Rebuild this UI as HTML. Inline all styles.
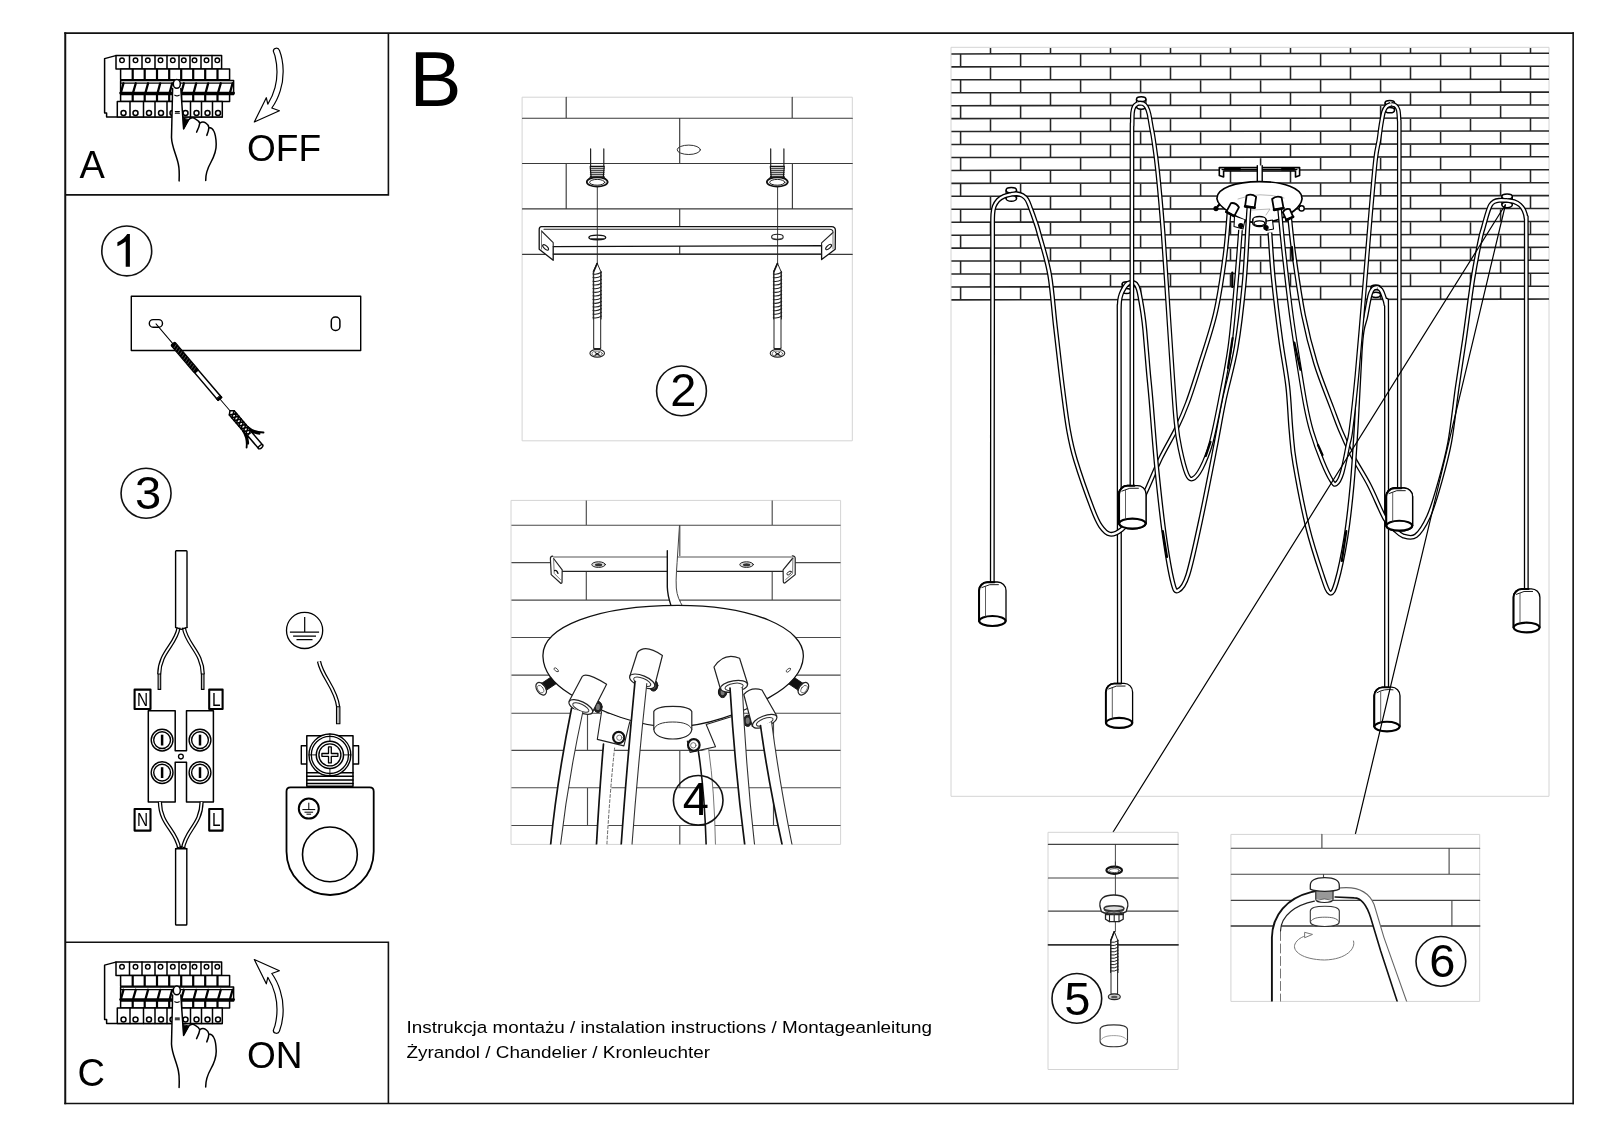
<!DOCTYPE html>
<html><head><meta charset="utf-8"><title>Instrukcja montazu</title>
<style>
html,body{margin:0;padding:0;background:#fff;}
body{width:1600px;height:1131px;overflow:hidden;font-family:"Liberation Sans",sans-serif;}
svg{display:block;position:absolute;left:0;top:0;will-change:transform;}
svg text{font-family:"Liberation Sans",sans-serif;fill:#000;}
.k{fill:none;stroke:#000;stroke-linecap:round;stroke-linejoin:round;}
.w{fill:#fff;stroke:#000;stroke-linecap:round;stroke-linejoin:round;}
</style></head><body>
<svg width="1600" height="1131" viewBox="0 0 1600 1131">
<rect x="0" y="0" width="1600" height="1131" fill="#fff"/>
<!-- 00_frame.svg -->
<g id="frame">
<path d="M65.25 32.2V1104.3" stroke="#111" stroke-width="2" fill="none"/><path d="M64.3 33.1H1573.9" stroke="#111" stroke-width="1.75" fill="none"/><path d="M1573.15 32.2V1104.3" stroke="#111" stroke-width="1.6" fill="none"/><path d="M64.3 1103.5H1573.9" stroke="#111" stroke-width="1.5" fill="none"/>
<path d="M65.25 194.9H388.4V33.1" fill="none" stroke="#111" stroke-width="1.6"/>
<path d="M65.25 942.3H388.4V1103.5" fill="none" stroke="#111" stroke-width="1.6"/>
<text x="79.5" y="178" font-size="38">A</text>
<text x="247" y="161.3" font-size="37">OFF</text>
<text x="409.5" y="106" font-size="78">B</text>
<text x="77.5" y="1086.3" font-size="38">C</text>
<text x="247" y="1068" font-size="37">ON</text>
<text x="406.5" y="1032.6" font-size="17.4" textLength="525.5" lengthAdjust="spacingAndGlyphs">Instrukcja montażu / instalation instructions / Montageanleitung</text>
<text x="406.5" y="1057.9" font-size="17.4" textLength="303.5" lengthAdjust="spacingAndGlyphs">Żyrandol / Chandelier / Kronleuchter</text>
</g>
<!-- 10_breaker.svg -->
<defs><g id="brk" stroke="#000" stroke-linejoin="round" stroke-linecap="round">
<path d="M115.8 55.6L104.6 58.6V113H106.6V117.1H222.3" fill="#fff" stroke-width="1.5"/>
<rect x="116" y="55.6" width="105.6" height="13.4" fill="#fff" stroke-width="1.5"/>
<path d="M129.5 55.6V69M142.0 55.6V69M155.0 55.6V69M167.0 55.6V69M179.0 55.6V69M190.0 55.6V69M201.0 55.6V69M212.0 55.6V69" fill="none" stroke-width="1.5"/>
<circle cx="122.0" cy="60.3" r="2.3" fill="#fff" stroke-width="1.4"/>
<circle cx="135.5" cy="60.3" r="2.3" fill="#fff" stroke-width="1.4"/>
<circle cx="147.8" cy="60.3" r="2.3" fill="#fff" stroke-width="1.4"/>
<circle cx="160.5" cy="60.3" r="2.3" fill="#fff" stroke-width="1.4"/>
<circle cx="172.8" cy="60.3" r="2.3" fill="#fff" stroke-width="1.4"/>
<circle cx="183.8" cy="60.3" r="2.3" fill="#fff" stroke-width="1.4"/>
<circle cx="194.5" cy="60.3" r="2.3" fill="#fff" stroke-width="1.4"/>
<circle cx="206.5" cy="60.3" r="2.3" fill="#fff" stroke-width="1.4"/>
<circle cx="217.3" cy="60.3" r="2.3" fill="#fff" stroke-width="1.4"/>
<rect x="120.6" y="69" width="109" height="10.8" fill="#fff" stroke-width="1.5"/>
<path d="M132.7 69V79.8M144.7 69V79.8M157.0 69V79.8M169.2 69V79.8M181.2 69V79.8M193.2 69V79.8M205.2 69V79.8M217.5 69V79.8" fill="none" stroke-width="2.2" stroke-linecap="butt"/>
<rect x="120.6" y="80.4" width="113" height="14" fill="#fff" stroke-width="1.5"/>
<path d="M120.6 83.1H233.6" fill="none" stroke-width="1.1"/>
<path d="M120.6 93.1H233.6" fill="none" stroke-width="2.7"/>
<path d="M123.5 83.3L121.0 92.2M135.8 83.3L133.2 92.2M148.1 83.3L145.6 92.2M160.2 83.3L157.8 92.2M172.2 83.3L169.8 92.2M183.9 83.3L181.4 92.2M196.2 83.3L193.8 92.2M208.2 83.3L205.8 92.2M220.8 83.3L218.2 92.2M232.6 83.3L230.1 92.2" fill="none" stroke-width="2.3"/>
<rect x="120.6" y="94.4" width="109" height="7.2" fill="#fff" stroke-width="1.5"/>
<path d="M132.7 94.4V101.6M144.7 94.4V101.6M157.0 94.4V101.6M169.2 94.4V101.6M181.2 94.4V101.6M193.2 94.4V101.6M205.2 94.4V101.6M217.5 94.4V101.6" fill="none" stroke-width="2.2" stroke-linecap="butt"/>
<rect x="117.3" y="101.6" width="105" height="15.5" fill="#fff" stroke-width="1.5"/>
<path d="M130.0 101.6V117.1M143.5 101.6V117.1M155.0 101.6V117.1M167.0 101.6V117.1M180.5 101.6V117.1M190.5 101.6V117.1M201.5 101.6V117.1M212.5 101.6V117.1" fill="none" stroke-width="1.5"/>
<circle cx="123.5" cy="113" r="2.5" fill="#fff" stroke-width="1.5"/>
<circle cx="135.5" cy="113" r="2.5" fill="#fff" stroke-width="1.5"/>
<circle cx="149.0" cy="113" r="2.5" fill="#fff" stroke-width="1.5"/>
<circle cx="161.0" cy="113" r="2.5" fill="#fff" stroke-width="1.5"/>
<circle cx="172.5" cy="113" r="2.5" fill="#fff" stroke-width="1.5"/>
<circle cx="185.5" cy="113" r="2.5" fill="#fff" stroke-width="1.5"/>
<circle cx="196.5" cy="113" r="2.5" fill="#fff" stroke-width="1.5"/>
<circle cx="207.5" cy="113" r="2.5" fill="#fff" stroke-width="1.5"/>
<circle cx="218.0" cy="113" r="2.5" fill="#fff" stroke-width="1.5"/>
<path d="M179.1 180.9C179.3 175 179.6 170 178.4 164.5C176.5 155 171.8 147 171.5 137.5L172.6 88.5C172.8 85 174 80 176.8 79.7C179.8 80 180.6 85 180.8 88.5L183.6 128.9L188.6 119.8C190.5 117.8 193.5 117.6 195.3 118.9C197.6 120.2 199.3 121.6 199.8 123.2C201.4 122 204 121.8 205.6 122.9C207.4 124 208.6 125.8 208.9 127.6C210.6 127.6 212.6 128.6 213.8 131C215.4 134 216 137.5 216.2 144C216.5 151 213.8 157 210.8 162.5C208 167.5 205.6 172.5 205.7 180.4Z" fill="#fff" stroke="none"/>
<path d="M179.1 180.9C179.3 175 179.6 170 178.4 164.5C176.5 155 171.8 147 171.5 137.5L172.6 88.5M180.8 88.5L183.6 128.9L188.6 119.8C190.5 117.8 193.5 117.6 195.3 118.9C197.6 120.2 199.3 121.6 199.8 123.2C199.4 126.5 198 129.5 196.6 132.2M199.8 123.2C201.4 122 204 121.8 205.6 122.9C207.4 124 208.6 125.8 208.9 127.6C208.7 130.5 207.8 133 206.8 135.4M208.9 127.6C210.6 127.6 212.6 128.6 213.8 131C215.4 134 216 137.5 216.2 144C216.5 151 213.8 157 210.8 162.5C208 167.5 205.6 172.5 205.7 180.4" fill="none" stroke-width="1.5"/>
<path d="M183.2 118.6L183.6 128.9L188.6 119.8Z" fill="#000" stroke-width="1"/>
<ellipse cx="176.8" cy="83.9" rx="3.5" ry="4.3" fill="#fff" stroke-width="1.5"/>
<path d="M174.8 95.2Q177 96.6 179.2 95.2M175.3 111.6H179.4M175.3 113.3H179.4" fill="none" stroke-width="1.1"/>
</g>
<path id="arw" d="M273.3 51.1C273.5 47.5 278.5 47.3 279.4 50.3C284 62 284.5 78 280.2 90.9C278 98 275.5 103 271.8 108L279.4 110.8L254.3 122L266.3 97.7L267.8 104.2C271 99 273.5 93.5 275 87.7C277.5 78 277.5 66 275 55.9Z" fill="#fff" stroke="#000" stroke-width="1.2" stroke-linejoin="round"/>
</defs>
<use href="#brk"/><use href="#arw"/>
<use href="#brk" transform="translate(0 906.5)"/><use href="#arw" transform="translate(0 1081.5) scale(1 -1)"/>
<!-- 20_step1.svg -->
<g id="step1" stroke="#000" fill="none" stroke-linecap="round" stroke-linejoin="round">
<rect x="131.3" y="296.3" width="229.4" height="54.2" fill="#fff" stroke-width="1.4"/>
<rect x="149.3" y="319.6" width="13.2" height="7.6" rx="3.8" stroke-width="1.4"/>
<rect x="331.3" y="317" width="8.6" height="13.4" rx="4" stroke-width="1.5"/>
<g transform="translate(172.8 343.6) rotate(49.6)">
<path d="M-25.9 0H0M72.7 0H88.2" stroke-width="1"/>
<rect x="0" y="-2.6" width="36.5" height="5.2" rx="1.2" fill="#000" stroke-width="1.2"/>
<path d="M3.0 -1.6L4.0 1.6M6.0 -1.6L7.0 1.6M9.0 -1.6L10.0 1.6M12.0 -1.6L13.0 1.6M15.0 -1.6L16.0 1.6M18.0 -1.6L19.0 1.6M21.0 -1.6L22.0 1.6M24.0 -1.6L25.0 1.6M27.0 -1.6L28.0 1.6M30.0 -1.6L31.0 1.6M33.0 -1.6L34.0 1.6" stroke="#777" stroke-width="0.6"/>
<rect x="36.5" y="-2.3" width="36" height="4.6" fill="#fff" stroke-width="1.5"/>
<rect x="70.4" y="-2.6" width="2.6" height="5.2" fill="#000" stroke-width="0.8"/>
<path d="M88.2 0L91 -3.2H120V3.2H91Z" fill="#fff" stroke-width="1.5"/>
<path d="M91.0 -3.2L94.6 3.2M91.0 3.2L94.6 -3.2M94.6 -3.2L98.2 3.2M94.6 3.2L98.2 -3.2M98.2 -3.2L101.8 3.2M98.2 3.2L101.8 -3.2M101.8 -3.2L105.4 3.2M101.8 3.2L105.4 -3.2M105.4 -3.2L109.0 3.2M105.4 3.2L109.0 -3.2M109.0 -3.2L112.6 3.2M109.0 3.2L112.6 -3.2M112.6 -3.2L116.2 3.2M112.6 3.2L116.2 -3.2M116.2 -3.2L119.8 3.2M116.2 3.2L119.8 -3.2" stroke-width="1.5"/>
<rect x="119" y="-2.7" width="16.5" height="5.4" fill="#fff" stroke="none"/>
<path d="M118 -2.7H135.5M118 2.7H135.5" stroke-width="1.5"/>
<ellipse cx="135.5" cy="0" rx="1.4" ry="2.7" fill="#fff" stroke-width="1.4"/>
<path d="M112 -3.2C118 -4 122.5 -7 126.5 -11.5M112 3.2C118 4 123 7 127 11.2M116 -3C120 -3.4 122.5 -5 125 -7.5M116 3C120 3.4 122.5 5 125 7.4" stroke-width="1.8"/>
</g></g>
<!-- 30_step3.svg -->
<g id="step3" stroke="#000" fill="none" stroke-linecap="round" stroke-linejoin="round">
<path d="M175.6 627.5V551.6Q175.6 550.8 176.4 550.8H186.2Q187 550.8 187 551.6V627.5" fill="#fff" stroke-width="1.4"/>
<path d="M178.6 627.5C176 645 159.5 652 159.2 674.2" stroke="#000" stroke-width="4.2" stroke-linecap="butt"/>
<path d="M178.6 627.5C176 645 159.5 652 159.2 674.2" stroke="#fff" stroke-width="1.7" stroke-linecap="butt"/>
<path d="M183.8 627.5C186.5 645 202.5 652 202.8 674.2" stroke="#000" stroke-width="4.2" stroke-linecap="butt"/>
<path d="M183.8 627.5C186.5 645 202.5 652 202.8 674.2" stroke="#fff" stroke-width="1.7" stroke-linecap="butt"/>
<path d="M175.6 627.5L181.2 629.4L187 627.5" stroke-width="1.3"/>
<rect x="158.1" y="674" width="2.6" height="15.4" fill="#bbb" stroke-width="1.1"/>
<rect x="201.4" y="674" width="2.6" height="15.4" fill="#bbb" stroke-width="1.1"/>
<rect x="134.6" y="689.6" width="15.9" height="19.4" fill="#fff" stroke-width="2.1"/>
<text transform="translate(142.5 705.6) scale(0.84 1)" text-anchor="middle" font-size="18.3" stroke="none">N</text>
<rect x="209.2" y="689.6" width="13.4" height="19.4" fill="#fff" stroke-width="2.1"/>
<text transform="translate(216.2 705.6) scale(0.84 1)" text-anchor="middle" font-size="18.3" stroke="none">L</text>
<rect x="134.6" y="809.0" width="15.9" height="21.6" fill="#fff" stroke-width="2.1"/>
<text transform="translate(142.5 826.1) scale(0.84 1)" text-anchor="middle" font-size="18.3" stroke="none">N</text>
<rect x="209.2" y="809.0" width="13.4" height="21.6" fill="#fff" stroke-width="2.1"/>
<text transform="translate(216.2 826.1) scale(0.84 1)" text-anchor="middle" font-size="18.3" stroke="none">L</text>
<path d="M148.3 710.8H175.2V750.7H186.5V710.8H213.4V801.9H186.5V762.3H175.2V801.9H148.3Z" fill="#fff" stroke-width="1.5"/>
<circle cx="180.9" cy="756.6" r="2.4" stroke-width="1.3"/>
<circle cx="162.1" cy="740.1" r="10.9" stroke-width="1.4"/>
<circle cx="162.1" cy="740.1" r="8.4" stroke-width="1.4"/>
<path d="M162.1 734.7V745.5" stroke-width="2.5" stroke-linecap="butt"/>
<circle cx="162.1" cy="772.6" r="10.9" stroke-width="1.4"/>
<circle cx="162.1" cy="772.6" r="8.4" stroke-width="1.4"/>
<path d="M162.1 767.2V778.0" stroke-width="2.5" stroke-linecap="butt"/>
<circle cx="200.0" cy="740.1" r="10.9" stroke-width="1.4"/>
<circle cx="200.0" cy="740.1" r="8.4" stroke-width="1.4"/>
<path d="M200.0 734.7V745.5" stroke-width="2.5" stroke-linecap="butt"/>
<circle cx="200.0" cy="772.6" r="10.9" stroke-width="1.4"/>
<circle cx="200.0" cy="772.6" r="8.4" stroke-width="1.4"/>
<path d="M200.0 767.2V778.0" stroke-width="2.5" stroke-linecap="butt"/>
<path d="M159.9 801.9C160.3 825 176.5 830 179.3 848.8" stroke="#000" stroke-width="4.2" stroke-linecap="butt"/>
<path d="M159.9 801.9C160.3 825 176.5 830 179.3 848.8" stroke="#fff" stroke-width="1.7" stroke-linecap="butt"/>
<path d="M201.6 801.9C201.2 825 185.5 830 182.9 848.8" stroke="#000" stroke-width="4.2" stroke-linecap="butt"/>
<path d="M201.6 801.9C201.2 825 185.5 830 182.9 848.8" stroke="#fff" stroke-width="1.7" stroke-linecap="butt"/>
<path d="M175.6 848.8V924.2Q175.6 925 176.4 925H186Q186.8 925 186.8 924.2V848.8Z" fill="#fff" stroke-width="1.4"/>
<path d="M175.6 848.8L181.2 846.5L186.8 848.8" stroke-width="1.3"/>
<circle cx="304.6" cy="630.4" r="18.1" stroke-width="1.3"/>
<path d="M304.7 617V632.2M289.9 632.2H319.1M293.1 636.1H316M296.5 639.6H312.5" stroke-width="1.2" stroke-linecap="butt"/>
<path d="M319 661.3C322 677 336 688 338.2 707" stroke="#000" stroke-width="4.3" stroke-linecap="butt"/>
<path d="M319 661.3C322 677 336 688 338.2 707" stroke="#fff" stroke-width="1.8" stroke-linecap="butt"/>
<rect x="336.5" y="706.8" width="3.4" height="17" fill="#bbb" stroke-width="1.1"/>
<rect x="301.3" y="745.7" width="57.3" height="18.3" fill="#fff" stroke-width="1.4"/>
<rect x="306.8" y="735.8" width="46.2" height="50.5" fill="#fff" stroke-width="1.5"/>
<path d="M306.8 772.8H353M306.8 776.3H353M306.8 779.9H353M306.8 783.6H353" stroke-width="1.5"/>
<circle cx="329.9" cy="754.9" r="20.9" fill="#fff" stroke-width="1.4"/>
<circle cx="329.9" cy="754.9" r="18.6" stroke-width="1.3"/>
<path d="M329.9 734V776M309 754.9H351" stroke-width="0.9"/>
<circle cx="329.9" cy="754.9" r="13.6" fill="#fff" stroke-width="1.5"/>
<circle cx="329.9" cy="754.9" r="11" stroke-width="1.4"/>
<path d="M328.5 746.9H331.3V753.5H337.9V756.3H331.3V762.9H328.5V756.3H321.9V753.5H328.5Z" fill="#fff" stroke-width="1.3"/>
<path d="M290.5 787.4H369.7Q373.7 787.4 373.7 791.4V851.4A43.6 43.6 0 0 1 286.5 851.4V791.4Q286.5 787.4 290.5 787.4Z" fill="#fff" stroke-width="1.8"/>
<circle cx="329.9" cy="854.4" r="27.4" stroke-width="1.6"/>
<circle cx="308.8" cy="808.6" r="10" stroke-width="2"/>
<path d="M308.8 802.7V809.6M302.4 809.6H315.2M304.5 812.2H313.1M306.5 814.2H311.1" stroke-width="1" stroke-linecap="butt"/>
</g>
<!-- 40_panel2.svg -->
<g id="panel2" fill="none" stroke-linecap="round" stroke-linejoin="round">
<rect x="522.5" y="97.2" width="329.8" height="343.6" fill="#fff" stroke="#d4d4d4" stroke-width="1"/>
<path d="M522.5 118.2H852.3M522.5 163.5H852.3M522.5 208.9H852.3M522.5 254.3H852.3M566.2 97.2V118.2M792.2 97.2V118.2M679.7 118.2V163.5M566.2 163.5V208.9M792.4 163.5V208.9M679.7 208.9V254.3" stroke="#3a3a3a" stroke-width="1.15"/>
<ellipse cx="688.8" cy="149.8" rx="11.6" ry="4.7" stroke="#333" stroke-width="1"/>
<path d="M590.6 148.9V166.6M603.8 148.9V166.6" stroke="#222" stroke-width="1.2"/>
<path d="M590.2 166.4H604.2L603.2 178H591.2Z" fill="#fff" stroke="#111" stroke-width="1.2"/>
<path d="M590.4 168.3H604.0M590.4 170.3H604.0M590.4 172.3H604.0M590.4 174.3H604.0M590.4 176.2H604.0" stroke="#111" stroke-width="1.1"/>
<path d="M590.8 176.5C590.2 178 588.2 179.5 586.6 182M603.6 176.5C604.2 178 606.2 179.5 607.8 182" stroke="#111" stroke-width="1.2"/>
<ellipse cx="597.2" cy="182" rx="10.4" ry="4.6" fill="#fff" stroke="#111" stroke-width="1.7"/>
<ellipse cx="597.2" cy="182.3" rx="7.6" ry="2.9" stroke="#222" stroke-width="1"/>
<path d="M770.7 148.9V166.6M783.9 148.9V166.6" stroke="#222" stroke-width="1.2"/>
<path d="M770.3 166.4H784.3L783.3 178H771.3Z" fill="#fff" stroke="#111" stroke-width="1.2"/>
<path d="M770.5 168.3H784.1M770.5 170.3H784.1M770.5 172.3H784.1M770.5 174.3H784.1M770.5 176.2H784.1" stroke="#111" stroke-width="1.1"/>
<path d="M770.9 176.5C770.3 178 768.3 179.5 766.7 182M783.7 176.5C784.3 178 786.3 179.5 787.9 182" stroke="#111" stroke-width="1.2"/>
<ellipse cx="777.3" cy="182" rx="10.4" ry="4.6" fill="#fff" stroke="#111" stroke-width="1.7"/>
<ellipse cx="777.3" cy="182.3" rx="7.6" ry="2.9" stroke="#222" stroke-width="1"/>
<path d="M541.5 226.6H831.5Q835.6 226.8 835.4 230.5L835.2 249.2L821.6 259.6V245.6L553.2 246.6V260.3L539.2 249.2V229.5Q539.2 226.6 541.5 226.6Z" fill="#fff" stroke="#111" stroke-width="1.3"/>
<path d="M544 229.2H829.5Q833.3 229.4 833 232.5L821.6 242.8V245.6M541.5 231L553.2 242.6V246.6M553.2 254H821.6" stroke="#222" stroke-width="1.1"/>
<path d="M833 232.5V248.8M541.5 231V249" stroke="#555" stroke-width="0.8"/>
<ellipse cx="545.6" cy="247.4" rx="3.6" ry="1.6" transform="rotate(42 545.6 247.4)" stroke="#111" stroke-width="1.1"/>
<ellipse cx="828.6" cy="247" rx="3.6" ry="1.6" transform="rotate(-42 828.6 247)" stroke="#111" stroke-width="1.1"/>
<ellipse cx="597.3" cy="237.4" rx="8.4" ry="2.3" stroke="#111" stroke-width="1.4"/>
<path d="M591 238.6H603.6" stroke="#333" stroke-width="0.9"/>
<ellipse cx="777.4" cy="236.9" rx="5.8" ry="2.7" stroke="#222" stroke-width="1.1"/>
<path d="M772.4 238.3Q777.4 240.3 782.4 238.3" stroke="#444" stroke-width="0.8"/>
<path d="M597.3 186.5V263.5M777.6 186.5V263.5" stroke="#222" stroke-width="0.9"/>
<path d="M597.2 263.3L600.7 271.3V348.5H593.7V271.3Z" fill="#fff" stroke="#222" stroke-width="1"/>
<path d="M597.2 263.5L593.7 271.3" stroke="#111" stroke-width="1.6"/>
<path d="M593.0 273.9Q597.2 274.9 601.4 272.3M593.0 277.5Q597.2 278.5 601.4 275.9M593.0 281.2Q597.2 282.2 601.4 279.6M593.0 284.8Q597.2 285.8 601.4 283.2M593.0 288.5Q597.2 289.5 601.4 286.9M593.0 292.1Q597.2 293.1 601.4 290.6M593.0 295.8Q597.2 296.8 601.4 294.2M593.0 299.4Q597.2 300.4 601.4 297.9M593.0 303.1Q597.2 304.1 601.4 301.5M593.0 306.8Q597.2 307.8 601.4 305.2M593.0 310.4Q597.2 311.4 601.4 308.8M593.0 314.0Q597.2 315.0 601.4 312.4M593.0 317.7Q597.2 318.7 601.4 316.1" stroke="#222" stroke-width="1.05"/>
<path d="M593.3 271.3V319M601.1 271.3V319" stroke="#222" stroke-width="1"/>
<ellipse cx="597.2" cy="353.3" rx="7.3" ry="3.9" fill="#fff" stroke="#222" stroke-width="1.1"/>
<ellipse cx="597.2" cy="353.6" rx="5.2" ry="2.5" stroke="#555" stroke-width="0.8"/>
<path d="M593.7 348.3Q597.2 350 600.7 348.3" stroke="#222" stroke-width="0.9"/>
<path d="M595.2 352.6L599.4 355.2M599.2 352.6L595.0 355.2" stroke="#111" stroke-width="1.1"/>
<path d="M777.5 263.3L781.0 271.3V348.5H774.0V271.3Z" fill="#fff" stroke="#222" stroke-width="1"/>
<path d="M777.5 263.5L774.0 271.3" stroke="#111" stroke-width="1.6"/>
<path d="M773.3 273.9Q777.5 274.9 781.7 272.3M773.3 277.5Q777.5 278.5 781.7 275.9M773.3 281.2Q777.5 282.2 781.7 279.6M773.3 284.8Q777.5 285.8 781.7 283.2M773.3 288.5Q777.5 289.5 781.7 286.9M773.3 292.1Q777.5 293.1 781.7 290.6M773.3 295.8Q777.5 296.8 781.7 294.2M773.3 299.4Q777.5 300.4 781.7 297.9M773.3 303.1Q777.5 304.1 781.7 301.5M773.3 306.8Q777.5 307.8 781.7 305.2M773.3 310.4Q777.5 311.4 781.7 308.8M773.3 314.0Q777.5 315.0 781.7 312.4M773.3 317.7Q777.5 318.7 781.7 316.1" stroke="#222" stroke-width="1.05"/>
<path d="M773.6 271.3V319M781.4 271.3V319" stroke="#222" stroke-width="1"/>
<ellipse cx="777.5" cy="353.3" rx="7.3" ry="3.9" fill="#fff" stroke="#222" stroke-width="1.1"/>
<ellipse cx="777.5" cy="353.6" rx="5.2" ry="2.5" stroke="#555" stroke-width="0.8"/>
<path d="M774.0 348.3Q777.5 350 781.0 348.3" stroke="#222" stroke-width="0.9"/>
<path d="M775.5 352.6L779.7 355.2M779.5 352.6L775.3 355.2" stroke="#111" stroke-width="1.1"/>
</g>
<!-- 50_panel4.svg -->
<g id="panel4" fill="none" stroke-linecap="round" stroke-linejoin="round">
<clipPath id="cp4"><rect x="511.4" y="500.4" width="329.2" height="344.0"/></clipPath>
<rect x="511.4" y="500.4" width="329.2" height="344.0" fill="#fff" stroke="#d4d4d4" stroke-width="1"/>
<g clip-path="url(#cp4)">
<path d="M511.4 525.2H840.6M511.4 562.6H840.6M511.4 600.1H840.6M511.4 637.5H840.6M511.4 675.1H840.6M511.4 713.2H840.6M511.4 750.4H840.6M511.4 787.7H840.6M511.4 825.5H840.6M586.3 500.4V525.2M772.2 500.4V525.2M679.8 525.2V562.6M586.3 562.6V600.1M772.2 562.6V600.1M679.8 600.1V637.5M586.3 637.5V675.1M772.2 637.5V675.1M679.8 675.1V713.2M587.5 713.2V750.4M773.5 713.2V750.4M679.8 750.4V787.7M587.5 787.7V825.5M773.5 787.7V825.5M679.8 825.5V844.4" stroke="#4a4a4a" stroke-width="1.15"/>
<path d="M552.7 556.2H792.3L795.2 558.7V574.6L784.4 583L783.1 571.4H562L560.7 583.3L551.2 574.6L550.4 557.9Z" fill="#fff" stroke="none"/>
<path d="M554 557H791" stroke="#aaa" stroke-width="2.2"/>
<path d="M562 571.4H783.1" stroke="#222" stroke-width="1.2"/>
<path d="M552.7 556.2Q550.2 556.4 550.4 558.9L551.2 574.6L560.7 583.3Q562 583.6 562 582L562.2 569.8L553.6 558.5" fill="#fff" stroke="#222" stroke-width="1.2"/>
<path d="M553.6 558.5L554.2 573.4L560.4 579.6" stroke="#555" stroke-width="0.8"/>
<path d="M554.6 570.6Q556.5 569.6 558 573.4" stroke="#111" stroke-width="1.3"/>
<path d="M792.3 555.8Q795.4 556 795.2 558.7V574.6L784.8 583Q783.4 583.2 783.3 581.8L783.1 569.8L792.9 558" fill="#fff" stroke="#222" stroke-width="1.2"/>
<path d="M792.9 558.4L792.6 573.6L785.6 579.6" stroke="#555" stroke-width="0.8"/>
<ellipse cx="789.1" cy="573" rx="2.6" ry="1.3" transform="rotate(-40 789.1 573)" stroke="#222" stroke-width="0.9"/>
<ellipse cx="598.6" cy="564.6" rx="6.8" ry="2.8" fill="#ddd" stroke="#222" stroke-width="1"/>
<ellipse cx="598.6" cy="564.8" rx="3.6" ry="1.5" fill="#333" stroke="none"/>
<ellipse cx="746.6" cy="564.6" rx="6.8" ry="2.8" fill="#ddd" stroke="#222" stroke-width="1"/>
<ellipse cx="746.6" cy="564.8" rx="3.6" ry="1.5" fill="#333" stroke="none"/>
<path d="M667.3 550.7V587C667.6 596 669.5 601 671.3 606.5H682.8C679.5 601 677 596 676.3 588C675.6 578 677 566 677.7 553L679.5 525.4" fill="#fff" stroke="none"/>
<path d="M667.3 550.7V587C667.6 596 669.5 601 671.3 606.5" stroke="#111" stroke-width="1.4"/>
<path d="M679.5 525.4L677.7 553C677 566 675.6 578 676.3 588C677 596 679.5 601 682.8 606.5" stroke="#444" stroke-width="1"/>
<g transform="translate(541.2 688.7) rotate(-34.0)">
<rect x="2" y="-4.2" width="15" height="8.4" fill="#111" stroke="#111" stroke-width="0.8"/>
<ellipse cx="0" cy="0" rx="4.4" ry="7" fill="#fff" stroke="#222" stroke-width="1.2"/>
<ellipse cx="-0.8" cy="0" rx="2.6" ry="4.2" stroke="#555" stroke-width="0.8"/>
<path d="M3.4 -4.6Q5 0 3.4 4.6" stroke="#222" stroke-width="1"/>
</g>
<g transform="translate(803.4 688.7) rotate(214.0)">
<rect x="2" y="-4.2" width="15" height="8.4" fill="#111" stroke="#111" stroke-width="0.8"/>
<ellipse cx="0" cy="0" rx="4.4" ry="7" fill="#fff" stroke="#222" stroke-width="1.2"/>
<ellipse cx="-0.8" cy="0" rx="2.6" ry="4.2" stroke="#555" stroke-width="0.8"/>
<path d="M3.4 -4.6Q5 0 3.4 4.6" stroke="#222" stroke-width="1"/>
</g>
<path d="M543 657C541 627 598 605.3 678 605.3C752 605.3 805 628 803.3 657C802.5 672 790 686 769 697.6C742 713 705 727 672 727C640 727 600 712 570 694C553 683.5 543.5 671 543 657Z" fill="#fff" stroke="#111" stroke-width="1.3"/>
<ellipse cx="556.2" cy="669.8" rx="2.6" ry="1.3" transform="rotate(40 556.2 669.8)" stroke="#333" stroke-width="0.8"/>
<ellipse cx="788.4" cy="670.2" rx="2.6" ry="1.3" transform="rotate(-40 788.4 670.2)" stroke="#333" stroke-width="0.8"/>
<path d="M603.5 744L596.4 846H606.8L614.6 746.8Z" fill="#fff" stroke="none"/>
<path d="M603.5 744Q599.5 790 596.4 846" stroke="#111" stroke-width="1.7"/>
<path d="M614.6 748Q610 790 606.8 846" stroke="#555" stroke-width="0.9" stroke-dasharray="3 2.2"/>
<path d="M601.6 711.5L597.3 739.4L623.9 745.9L629.8 721.7" fill="#fff" stroke="#222" stroke-width="1.1"/>
<circle cx="618.7" cy="737.5" r="5.6" fill="#fff" stroke="#111" stroke-width="2.2"/>
<circle cx="619.3" cy="737.7" r="2.6" stroke="#555" stroke-width="0.8"/>
<path d="M698.4 751.5Q704.5 790.0 706.2 846.0L715.5 846.0Q714.5 790.0 708.7 749.6Z" fill="#fff" stroke="none"/>
<path d="M698.4 751.5Q704.5 790.0 706.2 846.0" stroke="#111" stroke-width="1.6"/>
<path d="M708.7 749.6Q714.5 790.0 715.5 846.0" stroke="#666" stroke-width="0.9"/>
<path d="M732.8 716.2L706.2 724.5L715.5 746.8L690.1 752.4L687.3 741" fill="#fff" stroke="#222" stroke-width="1.1"/>
<circle cx="693.8" cy="745" r="5.8" fill="#fff" stroke="#111" stroke-width="2.2"/>
<circle cx="693.3" cy="745.3" r="2.7" stroke="#555" stroke-width="0.8"/>
<path d="M653.8 711.5V729.5C654.5 735.5 662 739 672.8 739C683.5 739 691 735.5 691.8 729.5V711.5C690 707.5 683 706.3 672.8 706.3C662.5 706.3 655.5 707.5 653.8 711.5Z" fill="#fff" stroke="#222" stroke-width="1.2"/>
<path d="M653.8 729.5C655 724.5 662 722 672.8 722C683.5 722 690.5 724.5 691.8 729.5" stroke="#333" stroke-width="1"/>
<ellipse cx="597.9" cy="706.9" rx="4.2" ry="5.6" fill="#222" stroke="#111" stroke-width="1"/>
<ellipse cx="597.9" cy="706.9" rx="2" ry="3.2" fill="#777" stroke="none"/>
<ellipse cx="653.6" cy="685.5" rx="4.2" ry="5.6" fill="#222" stroke="#111" stroke-width="1"/>
<ellipse cx="653.6" cy="685.5" rx="2" ry="3.2" fill="#777" stroke="none"/>
<ellipse cx="722.6" cy="692.0" rx="4.2" ry="5.6" fill="#222" stroke="#111" stroke-width="1"/>
<ellipse cx="722.6" cy="692.0" rx="2" ry="3.2" fill="#777" stroke="none"/>
<ellipse cx="747.7" cy="720.8" rx="4.2" ry="5.6" fill="#222" stroke="#111" stroke-width="1"/>
<ellipse cx="747.7" cy="720.8" rx="2" ry="3.2" fill="#777" stroke="none"/>
<path d="M569.1 701.3L582.2 676.5Q586.0 671.5 606.6 684.2L592.3 712.5Z" fill="#fff" stroke="#222" stroke-width="1.2"/>
<ellipse cx="580.8" cy="707.0" rx="12.9" ry="5.4" transform="rotate(25.6 580.8 707.0)" fill="#fff" stroke="#222" stroke-width="1.2"/>
<ellipse cx="580.8" cy="707.5" rx="8.8" ry="3.3" transform="rotate(25.6 580.8 707.5)" fill="#fff" stroke="#333" stroke-width="1"/>
<path d="M571.5 708.5Q557.0 780.0 550.5 846.0L560.4 846.0Q568.0 780.0 582.8 712.0Z" fill="#fff" stroke="none"/>
<path d="M571.5 708.5Q557.0 780.0 550.5 846.0" stroke="#111" stroke-width="1.7"/>
<path d="M582.8 712.0Q568.0 780.0 560.4 846.0" stroke="#333" stroke-width="1.1"/>
<path d="M629.8 676.2L637.4 652.5Q645.0 643.5 662.4 655.5L654.5 686.4Z" fill="#fff" stroke="#222" stroke-width="1.2"/>
<ellipse cx="642.2" cy="681.3" rx="13.4" ry="5.6" transform="rotate(22.5 642.2 681.3)" fill="#fff" stroke="#222" stroke-width="1.2"/>
<ellipse cx="642.2" cy="681.8" rx="9.1" ry="3.5" transform="rotate(22.5 642.2 681.8)" fill="#fff" stroke="#333" stroke-width="1"/>
<path d="M635.0 681.5Q626.5 770.0 621.1 846.0L631.9 846.0Q637.5 770.0 646.8 683.5Z" fill="#fff" stroke="none"/>
<path d="M635.0 681.5Q626.5 770.0 621.1 846.0" stroke="#111" stroke-width="1.7"/>
<path d="M646.8 683.5Q637.5 770.0 631.9 846.0" stroke="#333" stroke-width="1.1"/>
<path d="M720.6 689.5L714.0 667.0Q724.0 652.0 739.6 658.2L747.7 684.0Z" fill="#fff" stroke="#222" stroke-width="1.2"/>
<ellipse cx="734.1" cy="686.4" rx="13.6" ry="5.6" transform="rotate(-9.4 734.1 686.4)" fill="#fff" stroke="#222" stroke-width="1.2"/>
<ellipse cx="734.1" cy="686.9" rx="9.2" ry="3.5" transform="rotate(-9.4 734.1 686.9)" fill="#fff" stroke="#333" stroke-width="1"/>
<path d="M730.0 688.0Q735.0 770.0 744.9 846.0L754.7 846.0Q746.0 770.0 742.3 687.6Z" fill="#fff" stroke="none"/>
<path d="M730.0 688.0Q735.0 770.0 744.9 846.0" stroke="#111" stroke-width="1.7"/>
<path d="M742.3 687.6Q746.0 770.0 754.7 846.0" stroke="#333" stroke-width="1.1"/>
<path d="M752.3 726.4L743.8 694.5Q751.0 686.5 762.0 690.0L776.8 716.0Z" fill="#fff" stroke="#222" stroke-width="1.2"/>
<ellipse cx="764.7" cy="721.3" rx="12.9" ry="5.4" transform="rotate(-21.0 764.7 721.3)" fill="#fff" stroke="#222" stroke-width="1.2"/>
<ellipse cx="764.7" cy="721.8" rx="8.8" ry="3.3" transform="rotate(-21.0 764.7 721.8)" fill="#fff" stroke="#333" stroke-width="1"/>
<path d="M760.5 725.5Q768.0 780.0 782.4 846.0L792.3 846.0Q779.0 780.0 771.6 722.0Z" fill="#fff" stroke="none"/>
<path d="M760.5 725.5Q768.0 780.0 782.4 846.0" stroke="#111" stroke-width="1.7"/>
<path d="M771.6 722.0Q779.0 780.0 792.3 846.0" stroke="#333" stroke-width="1.1"/>
</g></g>
<!-- 60_big.svg -->
<g id="big" fill="none" stroke-linecap="round" stroke-linejoin="round">
<rect x="951.4" y="47.3" width="597.6" height="749.0" fill="#fff" stroke="#d4d4d4" stroke-width="1"/>
<clipPath id="cpb"><rect x="951.4" y="47.3" width="597.6" height="749.0"/></clipPath>
<path d="M951.4 53.90L1549.0 53.30M951.4 66.85L1549.0 66.24M951.4 79.79L1549.0 79.17M951.4 92.74L1549.0 92.11M951.4 105.69L1549.0 105.04M951.4 118.63L1549.0 117.98M951.4 131.58L1549.0 130.92M951.4 144.53L1549.0 143.85M951.4 157.48L1549.0 156.79M951.4 170.42L1549.0 169.72M951.4 183.37L1549.0 182.66M951.4 196.32L1549.0 195.60M951.4 209.26L1549.0 208.53M951.4 222.21L1549.0 221.47M951.4 235.16L1549.0 234.40M951.4 248.10L1549.0 247.34M951.4 261.05L1549.0 260.28M951.4 274.00L1549.0 273.21M951.4 286.95L1549.0 286.15M951.4 299.89L1549.0 299.08M990.5 48.0V53.86M1050.5 48.0V53.80M1110.5 48.0V53.74M1170.5 48.0V53.68M1230.5 48.0V53.62M1290.5 48.0V53.56M1350.5 48.0V53.50M1410.5 48.0V53.44M1470.5 48.0V53.38M1530.5 48.0V53.32M960.6 53.89V66.84M1020.6 53.83V66.78M1080.6 53.77V66.71M1140.6 53.71V66.65M1200.6 53.65V66.59M1260.6 53.59V66.53M1320.6 53.53V66.47M1380.6 53.47V66.41M1440.6 53.41V66.35M1500.6 53.35V66.29M990.5 66.81V79.75M1050.5 66.75V79.69M1110.5 66.68V79.63M1170.5 66.62V79.57M1230.5 66.56V79.50M1290.5 66.50V79.44M1350.5 66.44V79.38M1410.5 66.38V79.32M1470.5 66.32V79.25M1530.5 66.25V79.19M960.6 79.78V92.73M1020.6 79.72V92.67M1080.6 79.66V92.60M1140.6 79.60V92.54M1200.6 79.53V92.48M1260.6 79.47V92.41M1320.6 79.41V92.35M1380.6 79.35V92.29M1440.6 79.28V92.22M1500.6 79.22V92.16M990.5 92.70V105.65M1050.5 92.64V105.58M1110.5 92.57V105.52M1170.5 92.51V105.45M1230.5 92.45V105.39M1290.5 92.38V105.32M1350.5 92.32V105.26M1410.5 92.25V105.19M1470.5 92.19V105.13M1530.5 92.13V105.06M960.6 105.68V118.62M1020.6 105.61V118.56M1080.6 105.55V118.49M1140.6 105.48V118.43M1200.6 105.42V118.36M1260.6 105.35V118.30M1320.6 105.29V118.23M1380.6 105.23V118.16M1440.6 105.16V118.10M1500.6 105.10V118.03M990.5 118.59V131.54M1050.5 118.53V131.47M1110.5 118.46V131.40M1170.5 118.39V131.34M1230.5 118.33V131.27M1290.5 118.26V131.20M1350.5 118.20V131.14M1410.5 118.13V131.07M1470.5 118.07V131.00M1530.5 118.00V130.94M960.6 131.57V144.52M1020.6 131.50V144.45M1080.6 131.44V144.38M1140.6 131.37V144.31M1200.6 131.30V144.25M1260.6 131.24V144.18M1320.6 131.17V144.11M1380.6 131.10V144.04M1440.6 131.04V143.97M1500.6 130.97V143.91M990.5 144.48V157.43M1050.5 144.42V157.36M1110.5 144.35V157.29M1170.5 144.28V157.22M1230.5 144.21V157.15M1290.5 144.14V157.09M1350.5 144.08V157.02M1410.5 144.01V156.95M1470.5 143.94V156.88M1530.5 143.87V156.81M960.6 157.47V170.41M1020.6 157.40V170.34M1080.6 157.33V170.27M1140.6 157.26V170.20M1200.6 157.19V170.13M1260.6 157.12V170.06M1320.6 157.05V169.99M1380.6 156.98V169.92M1440.6 156.91V169.85M1500.6 156.84V169.78M990.5 170.38V183.32M1050.5 170.31V183.25M1110.5 170.24V183.18M1170.5 170.17V183.11M1230.5 170.10V183.04M1290.5 170.03V182.97M1350.5 169.96V182.90M1410.5 169.89V182.82M1470.5 169.82V182.75M1530.5 169.75V182.68M960.6 183.36V196.31M1020.6 183.29V196.23M1080.6 183.22V196.16M1140.6 183.15V196.09M1200.6 183.07V196.02M1260.6 183.00V195.94M1320.6 182.93V195.87M1380.6 182.86V195.80M1440.6 182.79V195.73M1500.6 182.72V195.65M990.5 196.27V209.22M1050.5 196.20V209.14M1110.5 196.13V209.07M1170.5 196.05V209.00M1230.5 195.98V208.92M1290.5 195.91V208.85M1350.5 195.84V208.78M1410.5 195.76V208.70M1470.5 195.69V208.63M1530.5 195.62V208.55M960.6 209.25V222.20M1020.6 209.18V222.12M1080.6 209.11V222.05M1140.6 209.03V221.98M1200.6 208.96V221.90M1260.6 208.89V221.83M1320.6 208.81V221.75M1380.6 208.74V221.68M1440.6 208.66V221.60M1500.6 208.59V221.53M990.5 222.16V235.11M1050.5 222.09V235.03M1110.5 222.01V234.96M1170.5 221.94V234.88M1230.5 221.86V234.81M1290.5 221.79V234.73M1350.5 221.71V234.65M1410.5 221.64V234.58M1470.5 221.57V234.50M1530.5 221.49V234.43M960.6 235.15V248.09M1020.6 235.07V248.02M1080.6 234.99V247.94M1140.6 234.92V247.86M1200.6 234.84V247.79M1260.6 234.77V247.71M1320.6 234.69V247.63M1380.6 234.62V247.56M1440.6 234.54V247.48M1500.6 234.47V247.40M990.5 248.05V261.00M1050.5 247.98V260.92M1110.5 247.90V260.85M1170.5 247.82V260.77M1230.5 247.75V260.69M1290.5 247.67V260.61M1350.5 247.59V260.53M1410.5 247.52V260.46M1470.5 247.44V260.38M1530.5 247.36V260.30M960.6 261.04V273.99M1020.6 260.96V273.91M1080.6 260.88V273.83M1140.6 260.81V273.75M1200.6 260.73V273.67M1260.6 260.65V273.59M1320.6 260.57V273.51M1380.6 260.49V273.43M1440.6 260.42V273.35M1500.6 260.34V273.28M990.5 273.95V286.89M1050.5 273.87V286.81M1110.5 273.79V286.73M1170.5 273.71V286.65M1230.5 273.63V286.57M1290.5 273.55V286.49M1350.5 273.47V286.41M1410.5 273.39V286.33M1470.5 273.32V286.25M1530.5 273.24V286.17M960.6 286.93V299.88M1020.6 286.85V299.80M1080.6 286.77V299.72M1140.6 286.69V299.64M1200.6 286.61V299.56M1260.6 286.53V299.47M1320.6 286.45V299.39M1380.6 286.37V299.31M1440.6 286.29V299.23M1500.6 286.21V299.15" stroke="#262626" stroke-width="1.55" stroke-linecap="butt"/>
<g clip-path="url(#cpb)">
<path d="M1219.3 167.6H1299.6V175.5L1295.5 177V171H1223.6V177L1219.3 175.5Z" fill="#fff" stroke="#000" stroke-width="1.6"/>
<path d="M1222 169.6H1297" stroke="#000" stroke-width="1.2"/>
<path d="M1225 169.2H1240M1282 169.2H1294" stroke="#000" stroke-width="2.4"/>
<path d="M1257.3 165.6V183H1262.2V165.6" fill="#fff" stroke="#000" stroke-width="1.4"/>
<circle cx="1216" cy="208.6" r="2.6" fill="#000"/><path d="M1218 206L1222 202" stroke="#000" stroke-width="2.4"/>
<circle cx="1301.6" cy="208.4" r="2.6" fill="#fff" stroke="#000" stroke-width="1.4"/><path d="M1299.6 206L1296 202.4" stroke="#000" stroke-width="2.4"/>
<path d="M1217 199C1216 188 1236 181.6 1259.5 181.6C1283 181.6 1303 188 1302 199C1301 207 1290 215 1280 219C1272 222 1266 223 1259 223C1250 223 1238 218 1229 212C1222 207.5 1217.5 203 1217 199Z" fill="#fff" stroke="#000" stroke-width="1.7"/>
<path d="M1238 199Q1259 191 1284 198M1252 210L1270 209L1266 215" stroke="#888" stroke-width="0.6"/>
<path d="M1006.1 190.2V198.4H1016.5V190.2Z" fill="#fff" stroke="#000" stroke-width="1.3"/>
<ellipse cx="1011.3" cy="198.4" rx="5.2" ry="2.9" fill="#fff" stroke="#000" stroke-width="1.5"/>
<ellipse cx="1011.3" cy="190.2" rx="5.2" ry="2.7" fill="#fff" stroke="#000" stroke-width="1.5"/>
<path d="M1136.5 99.2V106.6H1145.9V99.2Z" fill="#fff" stroke="#000" stroke-width="1.3"/>
<ellipse cx="1141.2" cy="106.6" rx="4.7" ry="2.6" fill="#fff" stroke="#000" stroke-width="1.5"/>
<ellipse cx="1141.2" cy="99.2" rx="4.7" ry="2.4" fill="#fff" stroke="#000" stroke-width="1.5"/>
<path d="M1122.2 284.0V291.0H1131.0V284.0Z" fill="#fff" stroke="#000" stroke-width="1.3"/>
<ellipse cx="1126.6" cy="291.0" rx="4.4" ry="2.5" fill="#fff" stroke="#000" stroke-width="1.5"/>
<ellipse cx="1126.6" cy="284.0" rx="4.4" ry="2.3" fill="#fff" stroke="#000" stroke-width="1.5"/>
<path d="M1385.1 102.8V110.2H1394.5V102.8Z" fill="#fff" stroke="#000" stroke-width="1.3"/>
<ellipse cx="1389.8" cy="110.2" rx="4.7" ry="2.6" fill="#fff" stroke="#000" stroke-width="1.5"/>
<ellipse cx="1389.8" cy="102.8" rx="4.7" ry="2.4" fill="#fff" stroke="#000" stroke-width="1.5"/>
<path d="M1371.1 287.4V294.8H1380.5V287.4Z" fill="#fff" stroke="#000" stroke-width="1.3"/>
<ellipse cx="1375.8" cy="294.8" rx="4.7" ry="2.6" fill="#fff" stroke="#000" stroke-width="1.5"/>
<ellipse cx="1375.8" cy="287.4" rx="4.7" ry="2.4" fill="#fff" stroke="#000" stroke-width="1.5"/>
<path d="M1501.9 196.6V204.8H1512.3V196.6Z" fill="#fff" stroke="#000" stroke-width="1.3"/>
<ellipse cx="1507.1" cy="204.8" rx="5.2" ry="2.9" fill="#fff" stroke="#000" stroke-width="1.5"/>
<ellipse cx="1507.1" cy="196.6" rx="5.2" ry="2.7" fill="#fff" stroke="#000" stroke-width="1.5"/>
<path d="M1011.0 194.3C1009.8 194.6 1006.2 195.2 1004.0 196.2C1001.8 197.2 999.6 198.5 998.0 200.2C996.4 201.9 995.2 203.9 994.3 206.2C993.4 208.5 993.1 209.7 992.8 214.0C992.5 218.3 992.6 217.7 992.6 232.0C992.6 246.3 992.7 241.7 992.6 300.0C992.5 358.3 992.3 535.0 992.3 582.0" stroke="#000" stroke-width="4.9" stroke-linecap="butt"/>
<path d="M1011.0 194.3C1009.8 194.6 1006.2 195.2 1004.0 196.2C1001.8 197.2 999.6 198.5 998.0 200.2C996.4 201.9 995.2 203.9 994.3 206.2C993.4 208.5 993.1 209.7 992.8 214.0C992.5 218.3 992.6 217.7 992.6 232.0C992.6 246.3 992.7 241.7 992.6 300.0C992.5 358.3 992.3 535.0 992.3 582.0" stroke="#fff" stroke-width="2.3" stroke-linecap="butt"/>
<path d="M1507.0 200.4C1508.2 200.6 1511.8 200.8 1514.0 201.6C1516.2 202.4 1518.3 203.5 1520.0 205.0C1521.7 206.5 1523.0 208.3 1524.0 210.5C1525.0 212.7 1525.6 213.9 1526.0 218.0C1526.4 222.1 1526.2 204.7 1526.3 235.0C1526.3 265.3 1526.3 341.0 1526.3 400.0C1526.3 459.0 1526.3 557.5 1526.3 589.0" stroke="#000" stroke-width="4.9" stroke-linecap="butt"/>
<path d="M1507.0 200.4C1508.2 200.6 1511.8 200.8 1514.0 201.6C1516.2 202.4 1518.3 203.5 1520.0 205.0C1521.7 206.5 1523.0 208.3 1524.0 210.5C1525.0 212.7 1525.6 213.9 1526.0 218.0C1526.4 222.1 1526.2 204.7 1526.3 235.0C1526.3 265.3 1526.3 341.0 1526.3 400.0C1526.3 459.0 1526.3 557.5 1526.3 589.0" stroke="#fff" stroke-width="2.3" stroke-linecap="butt"/>
<path d="M1132.0 282.0C1131.3 282.2 1129.3 282.5 1128.0 283.4C1126.7 284.3 1125.5 285.8 1124.4 287.6C1123.3 289.4 1122.0 291.8 1121.2 294.0C1120.4 296.2 1119.9 298.3 1119.6 301.0C1119.3 303.7 1119.3 306.5 1119.2 310.0C1119.1 313.5 1119.2 290.3 1119.2 322.0C1119.2 353.7 1119.2 439.7 1119.3 500.0C1119.3 560.3 1119.5 653.3 1119.5 684.0" stroke="#000" stroke-width="5.1" stroke-linecap="butt"/>
<path d="M1132.0 282.0C1131.3 282.2 1129.3 282.5 1128.0 283.4C1126.7 284.3 1125.5 285.8 1124.4 287.6C1123.3 289.4 1122.0 291.8 1121.2 294.0C1120.4 296.2 1119.9 298.3 1119.6 301.0C1119.3 303.7 1119.3 306.5 1119.2 310.0C1119.1 313.5 1119.2 290.3 1119.2 322.0C1119.2 353.7 1119.2 439.7 1119.3 500.0C1119.3 560.3 1119.5 653.3 1119.5 684.0" stroke="#fff" stroke-width="2.5" stroke-linecap="butt"/>
<path d="M1377.5 287.4C1378.1 287.8 1380.0 288.6 1381.0 290.0C1382.0 291.4 1382.8 293.6 1383.6 296.0C1384.4 298.4 1385.5 300.8 1386.0 304.5C1386.5 308.2 1386.5 285.4 1386.6 318.0C1386.7 350.6 1386.6 438.4 1386.6 500.0C1386.6 561.6 1386.6 656.2 1386.6 687.5" stroke="#000" stroke-width="5.1" stroke-linecap="butt"/>
<path d="M1377.5 287.4C1378.1 287.8 1380.0 288.6 1381.0 290.0C1382.0 291.4 1382.8 293.6 1383.6 296.0C1384.4 298.4 1385.5 300.8 1386.0 304.5C1386.5 308.2 1386.5 285.4 1386.6 318.0C1386.7 350.6 1386.6 438.4 1386.6 500.0C1386.6 561.6 1386.6 656.2 1386.6 687.5" stroke="#fff" stroke-width="2.5" stroke-linecap="butt"/>
<path d="M1118.8 523.6V494.1A8.5 8.5 0 0 1 1127.3 485.6H1137.5A8.5 8.5 0 0 1 1146.0 494.1V523.6Z" fill="#fff" stroke="#000" stroke-width="1.3"/>
<path d="M1119.1 523.6V494.1A8.5 8.5 0 0 1 1127.3 485.8H1134.4" stroke="#000" stroke-width="1.9"/>
<path d="M1121.8 491.1Q1129.4 486.8 1138.4 488.2" stroke="#000" stroke-width="0.9"/>
<ellipse cx="1132.4" cy="523.6" rx="13.2" ry="5.0" fill="#fff" stroke="#000" stroke-width="2.1"/>
<path d="M1125.5 490.1V519.0" stroke="#333" stroke-width="0.8"/>
<path d="M1386.0 525.7V496.5A8.5 8.5 0 0 1 1394.5 488.0H1404.1A8.5 8.5 0 0 1 1412.6 496.5V525.7Z" fill="#fff" stroke="#000" stroke-width="1.3"/>
<path d="M1386.3 525.7V496.5A8.5 8.5 0 0 1 1394.5 488.2H1401.3" stroke="#000" stroke-width="1.9"/>
<path d="M1389.0 493.5Q1396.3 489.2 1405.3 490.6" stroke="#000" stroke-width="0.9"/>
<ellipse cx="1399.3" cy="525.7" rx="12.9" ry="4.9" fill="#fff" stroke="#000" stroke-width="2.1"/>
<path d="M1392.7 492.5V521.3" stroke="#333" stroke-width="0.8"/>
<path d="M1229.0 213.0C1228.3 220.1 1227.2 238.9 1225.0 255.5C1222.8 272.1 1219.7 294.5 1215.5 312.8C1211.3 331.1 1204.5 350.4 1199.8 365.4C1195.1 380.4 1191.4 392.4 1187.4 403.0C1183.5 413.6 1180.6 420.0 1176.1 429.2C1171.6 438.4 1165.8 447.6 1160.6 458.3C1155.4 469.0 1149.8 483.5 1145.0 493.3C1140.2 503.1 1135.9 511.0 1132.0 517.0C1128.1 523.0 1125.4 526.6 1121.7 529.5C1118.0 532.4 1113.5 534.8 1110.0 534.2C1106.5 533.6 1103.4 530.2 1100.5 526.0C1097.6 521.8 1096.7 519.9 1092.5 508.9C1088.3 497.9 1079.5 473.1 1075.5 460.0C1071.5 446.9 1070.7 442.2 1068.5 430.0C1066.3 417.8 1064.7 404.1 1062.5 387.0C1060.3 369.9 1057.7 345.9 1055.5 327.2C1053.3 308.5 1052.3 290.0 1049.6 274.6C1046.9 259.2 1041.7 243.7 1039.4 235.0C1037.1 226.3 1037.2 227.2 1035.7 222.7C1034.2 218.2 1031.9 211.7 1030.4 207.9C1029.0 204.1 1028.3 201.9 1027.0 199.8C1025.7 197.7 1024.2 196.4 1022.5 195.4C1020.8 194.4 1018.9 194.0 1017.0 193.8C1015.1 193.6 1012.0 194.2 1011.0 194.3" stroke="#000" stroke-width="4.9" stroke-linecap="butt"/>
<path d="M1229.0 213.0C1228.3 220.1 1227.2 238.9 1225.0 255.5C1222.8 272.1 1219.7 294.5 1215.5 312.8C1211.3 331.1 1204.5 350.4 1199.8 365.4C1195.1 380.4 1191.4 392.4 1187.4 403.0C1183.5 413.6 1180.6 420.0 1176.1 429.2C1171.6 438.4 1165.8 447.6 1160.6 458.3C1155.4 469.0 1149.8 483.5 1145.0 493.3C1140.2 503.1 1135.9 511.0 1132.0 517.0C1128.1 523.0 1125.4 526.6 1121.7 529.5C1118.0 532.4 1113.5 534.8 1110.0 534.2C1106.5 533.6 1103.4 530.2 1100.5 526.0C1097.6 521.8 1096.7 519.9 1092.5 508.9C1088.3 497.9 1079.5 473.1 1075.5 460.0C1071.5 446.9 1070.7 442.2 1068.5 430.0C1066.3 417.8 1064.7 404.1 1062.5 387.0C1060.3 369.9 1057.7 345.9 1055.5 327.2C1053.3 308.5 1052.3 290.0 1049.6 274.6C1046.9 259.2 1041.7 243.7 1039.4 235.0C1037.1 226.3 1037.2 227.2 1035.7 222.7C1034.2 218.2 1031.9 211.7 1030.4 207.9C1029.0 204.1 1028.3 201.9 1027.0 199.8C1025.7 197.7 1024.2 196.4 1022.5 195.4C1020.8 194.4 1018.9 194.0 1017.0 193.8C1015.1 193.6 1012.0 194.2 1011.0 194.3" stroke="#fff" stroke-width="2.3" stroke-linecap="butt"/>
<path d="M1289.8 219.0C1290.5 225.1 1291.7 239.5 1294.0 255.5C1296.3 271.5 1299.9 297.3 1303.5 315.2C1307.1 333.1 1310.8 347.5 1315.5 363.0C1320.2 378.5 1327.9 396.9 1332.0 408.0C1336.1 419.1 1337.0 422.0 1340.3 429.9C1343.6 437.8 1347.3 446.0 1352.1 455.2C1356.9 464.4 1363.6 474.3 1369.1 484.9C1374.6 495.5 1380.8 511.4 1385.0 518.8C1389.2 526.2 1391.6 526.6 1394.6 529.4C1397.6 532.2 1399.5 534.7 1403.0 535.8C1406.5 536.9 1411.5 539.0 1415.8 535.8C1420.0 532.6 1424.6 525.2 1428.5 516.7C1432.4 508.2 1435.6 497.3 1439.1 484.9C1442.6 472.5 1446.7 458.7 1449.7 442.4C1452.7 426.1 1454.8 404.1 1457.3 386.9C1459.8 369.7 1461.9 357.0 1464.5 339.1C1467.1 321.2 1470.2 295.9 1472.8 279.4C1475.4 262.9 1478.3 248.6 1480.1 240.0C1481.8 231.4 1482.1 232.2 1483.3 227.7C1484.5 223.2 1486.3 216.7 1487.5 212.9C1488.7 209.2 1489.4 207.1 1490.5 205.2C1491.6 203.3 1492.6 202.5 1494.0 201.7C1495.4 200.9 1496.8 200.5 1499.0 200.3C1501.2 200.1 1505.7 200.4 1507.0 200.4" stroke="#000" stroke-width="4.9" stroke-linecap="butt"/>
<path d="M1289.8 219.0C1290.5 225.1 1291.7 239.5 1294.0 255.5C1296.3 271.5 1299.9 297.3 1303.5 315.2C1307.1 333.1 1310.8 347.5 1315.5 363.0C1320.2 378.5 1327.9 396.9 1332.0 408.0C1336.1 419.1 1337.0 422.0 1340.3 429.9C1343.6 437.8 1347.3 446.0 1352.1 455.2C1356.9 464.4 1363.6 474.3 1369.1 484.9C1374.6 495.5 1380.8 511.4 1385.0 518.8C1389.2 526.2 1391.6 526.6 1394.6 529.4C1397.6 532.2 1399.5 534.7 1403.0 535.8C1406.5 536.9 1411.5 539.0 1415.8 535.8C1420.0 532.6 1424.6 525.2 1428.5 516.7C1432.4 508.2 1435.6 497.3 1439.1 484.9C1442.6 472.5 1446.7 458.7 1449.7 442.4C1452.7 426.1 1454.8 404.1 1457.3 386.9C1459.8 369.7 1461.9 357.0 1464.5 339.1C1467.1 321.2 1470.2 295.9 1472.8 279.4C1475.4 262.9 1478.3 248.6 1480.1 240.0C1481.8 231.4 1482.1 232.2 1483.3 227.7C1484.5 223.2 1486.3 216.7 1487.5 212.9C1488.7 209.2 1489.4 207.1 1490.5 205.2C1491.6 203.3 1492.6 202.5 1494.0 201.7C1495.4 200.9 1496.8 200.5 1499.0 200.3C1501.2 200.1 1505.7 200.4 1507.0 200.4" stroke="#fff" stroke-width="2.3" stroke-linecap="butt"/>
<path d="M1249.0 207.0C1248.8 209.5 1248.8 209.2 1248.0 222.0C1247.2 234.8 1246.1 262.8 1244.1 283.7C1242.1 304.6 1239.5 328.0 1236.2 347.4C1232.9 366.8 1227.7 383.1 1224.2 400.0C1220.7 416.9 1218.8 429.2 1215.0 448.6C1211.2 468.1 1205.9 495.6 1201.4 516.7C1196.9 537.8 1191.7 562.7 1187.8 575.0C1183.9 587.3 1180.6 589.4 1178.1 590.6C1175.6 591.8 1174.9 591.1 1172.6 582.0C1170.3 572.9 1167.2 555.1 1164.5 536.1C1161.8 517.1 1159.0 490.8 1156.7 468.1C1154.5 445.4 1152.4 416.4 1151.0 400.0C1149.6 383.6 1149.2 381.7 1148.2 370.0C1147.2 358.3 1145.7 339.6 1144.8 330.0C1143.9 320.4 1143.4 317.8 1142.7 312.7C1142.0 307.6 1141.2 303.4 1140.5 299.5C1139.8 295.6 1139.2 292.1 1138.4 289.5C1137.6 286.9 1136.9 285.2 1135.8 284.0C1134.7 282.8 1132.6 282.3 1132.0 282.0" stroke="#000" stroke-width="5.0" stroke-linecap="butt"/>
<path d="M1249.0 207.0C1248.8 209.5 1248.8 209.2 1248.0 222.0C1247.2 234.8 1246.1 262.8 1244.1 283.7C1242.1 304.6 1239.5 328.0 1236.2 347.4C1232.9 366.8 1227.7 383.1 1224.2 400.0C1220.7 416.9 1218.8 429.2 1215.0 448.6C1211.2 468.1 1205.9 495.6 1201.4 516.7C1196.9 537.8 1191.7 562.7 1187.8 575.0C1183.9 587.3 1180.6 589.4 1178.1 590.6C1175.6 591.8 1174.9 591.1 1172.6 582.0C1170.3 572.9 1167.2 555.1 1164.5 536.1C1161.8 517.1 1159.0 490.8 1156.7 468.1C1154.5 445.4 1152.4 416.4 1151.0 400.0C1149.6 383.6 1149.2 381.7 1148.2 370.0C1147.2 358.3 1145.7 339.6 1144.8 330.0C1143.9 320.4 1143.4 317.8 1142.7 312.7C1142.0 307.6 1141.2 303.4 1140.5 299.5C1139.8 295.6 1139.2 292.1 1138.4 289.5C1137.6 286.9 1136.9 285.2 1135.8 284.0C1134.7 282.8 1132.6 282.3 1132.0 282.0" stroke="#fff" stroke-width="2.4" stroke-linecap="butt"/>
<path d="M1269.9 232.6C1270.5 240.4 1271.6 261.6 1273.4 279.4C1275.2 297.1 1278.2 321.2 1280.6 339.1C1283.0 357.0 1286.1 371.8 1287.8 386.9C1289.5 402.0 1289.8 417.2 1291.0 430.0C1292.2 442.8 1292.0 447.4 1294.8 463.6C1297.6 479.8 1303.0 508.5 1307.6 527.3C1312.2 546.0 1318.7 565.1 1322.4 576.1C1326.1 587.1 1327.6 592.0 1329.9 593.0C1332.2 594.0 1333.8 591.2 1336.5 582.0C1339.2 572.8 1343.2 554.1 1345.8 537.9C1348.4 521.7 1350.3 504.3 1352.1 484.9C1353.9 465.4 1355.2 443.5 1356.5 421.2C1357.8 398.9 1359.2 366.2 1360.2 351.0C1361.2 335.8 1361.4 335.6 1362.3 330.0C1363.2 324.4 1364.5 322.2 1365.5 317.7C1366.5 313.2 1367.5 307.0 1368.3 303.0C1369.1 299.0 1369.6 295.9 1370.5 293.5C1371.4 291.1 1372.3 289.4 1373.5 288.4C1374.7 287.4 1376.8 287.6 1377.5 287.4" stroke="#000" stroke-width="5.0" stroke-linecap="butt"/>
<path d="M1269.9 232.6C1270.5 240.4 1271.6 261.6 1273.4 279.4C1275.2 297.1 1278.2 321.2 1280.6 339.1C1283.0 357.0 1286.1 371.8 1287.8 386.9C1289.5 402.0 1289.8 417.2 1291.0 430.0C1292.2 442.8 1292.0 447.4 1294.8 463.6C1297.6 479.8 1303.0 508.5 1307.6 527.3C1312.2 546.0 1318.7 565.1 1322.4 576.1C1326.1 587.1 1327.6 592.0 1329.9 593.0C1332.2 594.0 1333.8 591.2 1336.5 582.0C1339.2 572.8 1343.2 554.1 1345.8 537.9C1348.4 521.7 1350.3 504.3 1352.1 484.9C1353.9 465.4 1355.2 443.5 1356.5 421.2C1357.8 398.9 1359.2 366.2 1360.2 351.0C1361.2 335.8 1361.4 335.6 1362.3 330.0C1363.2 324.4 1364.5 322.2 1365.5 317.7C1366.5 313.2 1367.5 307.0 1368.3 303.0C1369.1 299.0 1369.6 295.9 1370.5 293.5C1371.4 291.1 1372.3 289.4 1373.5 288.4C1374.7 287.4 1376.8 287.6 1377.5 287.4" stroke="#fff" stroke-width="2.4" stroke-linecap="butt"/>
<path d="M1138.0 103.3C1137.4 103.8 1135.1 104.9 1134.2 106.5C1133.3 108.1 1132.8 109.9 1132.5 113.0C1132.2 116.1 1132.3 120.5 1132.2 125.0C1132.1 129.5 1132.0 110.8 1132.0 140.0C1132.0 169.2 1131.9 242.3 1131.9 300.0C1131.9 357.7 1131.9 455.0 1131.9 486.0" stroke="#000" stroke-width="4.7" stroke-linecap="butt"/>
<path d="M1138.0 103.3C1137.4 103.8 1135.1 104.9 1134.2 106.5C1133.3 108.1 1132.8 109.9 1132.5 113.0C1132.2 116.1 1132.3 120.5 1132.2 125.0C1132.1 129.5 1132.0 110.8 1132.0 140.0C1132.0 169.2 1131.9 242.3 1131.9 300.0C1131.9 357.7 1131.9 455.0 1131.9 486.0" stroke="#fff" stroke-width="2.2" stroke-linecap="butt"/>
<path d="M1391.0 104.2C1391.8 104.4 1394.3 104.5 1395.5 105.5C1396.7 106.5 1397.6 107.6 1398.2 110.0C1398.8 112.4 1398.9 115.0 1399.1 120.0C1399.3 125.0 1399.3 110.0 1399.3 140.0C1399.3 170.0 1399.3 241.9 1399.3 300.0C1399.3 358.1 1399.3 457.1 1399.3 488.5" stroke="#000" stroke-width="4.7" stroke-linecap="butt"/>
<path d="M1391.0 104.2C1391.8 104.4 1394.3 104.5 1395.5 105.5C1396.7 106.5 1397.6 107.6 1398.2 110.0C1398.8 112.4 1398.9 115.0 1399.1 120.0C1399.3 125.0 1399.3 110.0 1399.3 140.0C1399.3 170.0 1399.3 241.9 1399.3 300.0C1399.3 358.1 1399.3 457.1 1399.3 488.5" stroke="#fff" stroke-width="2.2" stroke-linecap="butt"/>
<path d="M1240.5 230.0C1239.8 238.9 1238.0 264.1 1236.2 283.7C1234.4 303.3 1232.5 328.0 1229.8 347.4C1227.1 366.8 1223.4 384.1 1220.3 400.0C1217.2 415.9 1214.2 431.4 1211.1 442.8C1207.9 454.2 1204.5 462.1 1201.4 468.1C1198.3 474.1 1195.1 477.8 1192.7 478.8C1190.3 479.8 1188.9 478.9 1186.8 473.9C1184.7 468.9 1181.8 457.1 1180.0 448.6C1178.2 440.1 1177.3 435.0 1176.1 422.7C1174.8 410.4 1173.9 394.8 1172.5 374.9C1171.1 355.0 1169.4 327.2 1167.8 303.3C1166.2 279.4 1164.7 253.8 1163.0 231.6C1161.3 209.4 1159.1 185.3 1157.5 170.0C1155.9 154.7 1154.6 147.0 1153.6 140.0C1152.6 133.0 1152.3 132.3 1151.5 128.0C1150.7 123.7 1149.8 117.5 1149.0 114.0C1148.2 110.5 1147.5 108.7 1146.5 107.0C1145.5 105.3 1144.4 104.2 1143.0 103.6C1141.6 103.0 1138.8 103.3 1138.0 103.3" stroke="#000" stroke-width="4.8" stroke-linecap="butt"/>
<path d="M1240.5 230.0C1239.8 238.9 1238.0 264.1 1236.2 283.7C1234.4 303.3 1232.5 328.0 1229.8 347.4C1227.1 366.8 1223.4 384.1 1220.3 400.0C1217.2 415.9 1214.2 431.4 1211.1 442.8C1207.9 454.2 1204.5 462.1 1201.4 468.1C1198.3 474.1 1195.1 477.8 1192.7 478.8C1190.3 479.8 1188.9 478.9 1186.8 473.9C1184.7 468.9 1181.8 457.1 1180.0 448.6C1178.2 440.1 1177.3 435.0 1176.1 422.7C1174.8 410.4 1173.9 394.8 1172.5 374.9C1171.1 355.0 1169.4 327.2 1167.8 303.3C1166.2 279.4 1164.7 253.8 1163.0 231.6C1161.3 209.4 1159.1 185.3 1157.5 170.0C1155.9 154.7 1154.6 147.0 1153.6 140.0C1152.6 133.0 1152.3 132.3 1151.5 128.0C1150.7 123.7 1149.8 117.5 1149.0 114.0C1148.2 110.5 1147.5 108.7 1146.5 107.0C1145.5 105.3 1144.4 104.2 1143.0 103.6C1141.6 103.0 1138.8 103.3 1138.0 103.3" stroke="#fff" stroke-width="2.3" stroke-linecap="butt"/>
<path d="M1279.6 209.3C1280.4 217.0 1282.2 237.8 1284.2 255.5C1286.2 273.1 1288.9 297.3 1291.3 315.2C1293.7 333.1 1296.1 348.0 1298.5 363.0C1300.9 378.0 1303.3 393.5 1305.5 405.0C1307.7 416.5 1309.0 422.4 1311.8 431.8C1314.6 441.2 1319.1 453.4 1322.4 461.5C1325.7 469.6 1329.2 476.8 1331.5 480.5C1333.8 484.2 1334.5 485.1 1336.2 483.8C1338.0 482.6 1340.0 479.5 1342.0 473.0C1344.0 466.5 1346.5 452.2 1348.0 445.0C1349.5 437.8 1349.5 441.6 1351.0 429.9C1352.5 418.2 1354.8 398.0 1357.0 374.9C1359.2 351.8 1362.0 317.2 1364.2 291.3C1366.4 265.4 1368.2 241.6 1370.1 219.7C1372.0 197.8 1374.0 173.3 1375.5 160.0C1377.0 146.7 1378.0 145.8 1378.9 140.0C1379.8 134.2 1380.2 129.7 1381.0 125.0C1381.8 120.3 1382.6 115.1 1383.5 112.0C1384.4 108.9 1385.2 107.8 1386.5 106.5C1387.8 105.2 1390.2 104.6 1391.0 104.2" stroke="#000" stroke-width="4.8" stroke-linecap="butt"/>
<path d="M1279.6 209.3C1280.4 217.0 1282.2 237.8 1284.2 255.5C1286.2 273.1 1288.9 297.3 1291.3 315.2C1293.7 333.1 1296.1 348.0 1298.5 363.0C1300.9 378.0 1303.3 393.5 1305.5 405.0C1307.7 416.5 1309.0 422.4 1311.8 431.8C1314.6 441.2 1319.1 453.4 1322.4 461.5C1325.7 469.6 1329.2 476.8 1331.5 480.5C1333.8 484.2 1334.5 485.1 1336.2 483.8C1338.0 482.6 1340.0 479.5 1342.0 473.0C1344.0 466.5 1346.5 452.2 1348.0 445.0C1349.5 437.8 1349.5 441.6 1351.0 429.9C1352.5 418.2 1354.8 398.0 1357.0 374.9C1359.2 351.8 1362.0 317.2 1364.2 291.3C1366.4 265.4 1368.2 241.6 1370.1 219.7C1372.0 197.8 1374.0 173.3 1375.5 160.0C1377.0 146.7 1378.0 145.8 1378.9 140.0C1379.8 134.2 1380.2 129.7 1381.0 125.0C1381.8 120.3 1382.6 115.1 1383.5 112.0C1384.4 108.9 1385.2 107.8 1386.5 106.5C1387.8 105.2 1390.2 104.6 1391.0 104.2" stroke="#fff" stroke-width="2.3" stroke-linecap="butt"/>
<path d="M1118.8 523.6V494.1A8.5 8.5 0 0 1 1127.3 485.6H1137.5A8.5 8.5 0 0 1 1146.0 494.1V523.6Z" fill="#fff" stroke="#000" stroke-width="1.3"/>
<path d="M1119.1 523.6V494.1A8.5 8.5 0 0 1 1127.3 485.8H1134.4" stroke="#000" stroke-width="1.9"/>
<path d="M1121.8 491.1Q1129.4 486.8 1138.4 488.2" stroke="#000" stroke-width="0.9"/>
<ellipse cx="1132.4" cy="523.6" rx="13.2" ry="5.0" fill="#fff" stroke="#000" stroke-width="2.1"/>
<path d="M1125.5 490.1V519.0" stroke="#333" stroke-width="0.8"/>
<path d="M1386.0 525.7V496.5A8.5 8.5 0 0 1 1394.5 488.0H1404.1A8.5 8.5 0 0 1 1412.6 496.5V525.7Z" fill="#fff" stroke="#000" stroke-width="1.3"/>
<path d="M1386.3 525.7V496.5A8.5 8.5 0 0 1 1394.5 488.2H1401.3" stroke="#000" stroke-width="1.9"/>
<path d="M1389.0 493.5Q1396.3 489.2 1405.3 490.6" stroke="#000" stroke-width="0.9"/>
<ellipse cx="1399.3" cy="525.7" rx="12.9" ry="4.9" fill="#fff" stroke="#000" stroke-width="2.1"/>
<path d="M1392.7 492.5V521.3" stroke="#333" stroke-width="0.8"/>
<path d="M978.8 621.0V590.5A8.5 8.5 0 0 1 987.3 582.0H997.5A8.5 8.5 0 0 1 1006.0 590.5V621.0Z" fill="#fff" stroke="#000" stroke-width="1.3"/>
<path d="M979.1 621.0V590.5A8.5 8.5 0 0 1 987.3 582.2H994.4" stroke="#000" stroke-width="1.9"/>
<path d="M981.8 587.5Q989.4 583.2 998.4 584.6" stroke="#000" stroke-width="0.9"/>
<ellipse cx="992.4" cy="621.0" rx="13.2" ry="5.0" fill="#fff" stroke="#000" stroke-width="2.1"/>
<path d="M985.5 586.5V616.4" stroke="#333" stroke-width="0.8"/>
<path d="M1105.6 722.9V691.9A8.5 8.5 0 0 1 1114.1 683.4H1124.1A8.5 8.5 0 0 1 1132.6 691.9V722.9Z" fill="#fff" stroke="#000" stroke-width="1.3"/>
<path d="M1105.9 722.9V691.9A8.5 8.5 0 0 1 1114.1 683.6H1121.1" stroke="#000" stroke-width="1.9"/>
<path d="M1108.6 688.9Q1116.1 684.6 1125.1 686.0" stroke="#000" stroke-width="0.9"/>
<ellipse cx="1119.1" cy="722.9" rx="13.1" ry="5.0" fill="#fff" stroke="#000" stroke-width="2.1"/>
<path d="M1112.3 687.9V718.4" stroke="#333" stroke-width="0.8"/>
<path d="M1374.0 726.6V695.7A8.5 8.5 0 0 1 1382.5 687.2H1391.5A8.5 8.5 0 0 1 1400.0 695.7V726.6Z" fill="#fff" stroke="#000" stroke-width="1.3"/>
<path d="M1374.3 726.6V695.7A8.5 8.5 0 0 1 1382.5 687.4H1389.0" stroke="#000" stroke-width="1.9"/>
<path d="M1377.0 692.7Q1384.0 688.4 1393.0 689.8" stroke="#000" stroke-width="0.9"/>
<ellipse cx="1387.0" cy="726.6" rx="12.6" ry="4.8" fill="#fff" stroke="#000" stroke-width="2.1"/>
<path d="M1380.7 691.7V722.3" stroke="#333" stroke-width="0.8"/>
<path d="M1513.3 627.5V597.3A8.5 8.5 0 0 1 1521.8 588.8H1531.4A8.5 8.5 0 0 1 1539.9 597.3V627.5Z" fill="#fff" stroke="#000" stroke-width="1.3"/>
<path d="M1513.6 627.5V597.3A8.5 8.5 0 0 1 1521.8 589.0H1528.6" stroke="#000" stroke-width="1.9"/>
<path d="M1516.3 594.3Q1523.6 590.0 1532.6 591.4" stroke="#000" stroke-width="0.9"/>
<ellipse cx="1526.6" cy="627.5" rx="12.9" ry="4.9" fill="#fff" stroke="#000" stroke-width="2.1"/>
<path d="M1520.0 593.3V623.1" stroke="#333" stroke-width="0.8"/>
<path d="M1162.8 531L1167 557M1205.8 456L1210.5 442M1318 445L1322.5 455M1346.3 531L1341.8 561M1294.3 342.6L1300.5 369.7M1232.6 338L1228 368M1232.3 272.5V287M1292 247L1292.8 260" stroke="#000" stroke-width="2.2"/>
<g transform="translate(1232.6 209.6) rotate(28.0)"><path d="M-4.5 -5.0V5.0H4.5V-5.0Q0 -8.0 -4.5 -5.0Z" fill="#fff" stroke="#000" stroke-width="1.8"/><path d="M-4.5 5.0H4.5" stroke="#000" stroke-width="2.6"/></g>
<g transform="translate(1250.6 201.6) rotate(8.0)"><path d="M-4.8 -5.5V5.5H4.8V-5.5Q0 -8.5 -4.8 -5.5Z" fill="#fff" stroke="#000" stroke-width="1.8"/><path d="M-4.8 5.5H4.8" stroke="#000" stroke-width="2.6"/></g>
<g transform="translate(1277.8 203.6) rotate(-10.0)"><path d="M-4.8 -5.5V5.5H4.8V-5.5Q0 -8.5 -4.8 -5.5Z" fill="#fff" stroke="#000" stroke-width="1.8"/><path d="M-4.8 5.5H4.8" stroke="#000" stroke-width="2.6"/></g>
<g transform="translate(1288.0 214.6) rotate(-24.0)"><path d="M-3.8 -4.2V4.2H3.8V-4.2Q0 -7.2 -3.8 -4.2Z" fill="#fff" stroke="#000" stroke-width="1.8"/><path d="M-3.8 4.2H3.8" stroke="#000" stroke-width="2.6"/></g>
<path d="M1234.5 216.5L1234 226.5L1243 229L1245 220" fill="#fff" stroke="#000" stroke-width="1.1"/>
<path d="M1264 221.5L1272.5 220L1273.5 229L1266 230.5" fill="#fff" stroke="#000" stroke-width="1.1"/>
<circle cx="1240.8" cy="225.6" r="2.7" fill="#000"/><circle cx="1266" cy="227.6" r="2.7" fill="#000"/>
<ellipse cx="1259.4" cy="219.5" rx="6.6" ry="3" fill="#fff" stroke="#000" stroke-width="1.3"/>
<path d="M1252.8 219.5V223.5A6.6 3 0 0 0 1266 223.5V219.5" fill="#fff" stroke="#000" stroke-width="1.5"/>
<ellipse cx="1259.4" cy="223.3" rx="5.4" ry="2.4" fill="#fff" stroke="#000" stroke-width="1.2"/>
</g>
</g>
<path d="M1505.5 204.5L1112.8 832.5M1505.5 204.5L1355.3 834.4" stroke="#000" stroke-width="1.2" fill="none"/>
<!-- 70_p56.svg -->
<g id="p5" fill="none" stroke-linecap="round" stroke-linejoin="round">
<rect x="1048.4" y="832.3" width="129.7" height="237.2" fill="#fff" stroke="#d4d4d4" stroke-width="1"/>
<path d="M1048.4 844.4H1178.1M1048.4 878H1178.1M1048.4 911.1H1178.1" stroke="#444" stroke-width="1.1"/>
<path d="M1048.4 944.9H1178.1" stroke="#333" stroke-width="1.6"/>
<path d="M1115.4 844.4V931.5" stroke="#333" stroke-width="0.9"/>
<ellipse cx="1114.2" cy="870.3" rx="7.8" ry="3.6" fill="#fff" stroke="#111" stroke-width="2.2"/>
<ellipse cx="1114.2" cy="870.6" rx="5" ry="2" fill="#fff" stroke="#444" stroke-width="0.9"/>
<path d="M1115.4 866.8V862" stroke="#333" stroke-width="0.9"/>
<path d="M1105.5 911V919.2L1109.5 921.6H1119L1123.2 919.2V911Z" fill="#fff" stroke="#222" stroke-width="1.3"/>
<path d="M1105.5 914.6H1123.2M1109.5 914.6V921.6M1114.2 914.6V921.6M1119 914.6V921.6" stroke="#222" stroke-width="1.1"/>
<path d="M1099.9 906C1099.2 898.5 1104 895 1113.8 895C1123.6 895 1128.4 898.5 1127.8 906L1126.2 911.6C1122.5 913.6 1118.5 914.2 1113.8 914.2C1109 914.2 1105 913.6 1101.4 911.6Z" fill="#fff" stroke="#222" stroke-width="1.3"/>
<ellipse cx="1114" cy="908.4" rx="10" ry="2.7" fill="#ddd" stroke="#333" stroke-width="1.5"/>
<path d="M1104.6 910.2Q1114 914 1123.4 910.2M1105.6 912Q1114 915.4 1122.4 912" stroke="#333" stroke-width="1.1"/>
<path d="M1114.3 931.5L1117.6 940V994H1111.0V940Z" fill="#fff" stroke="#222" stroke-width="1"/>
<path d="M1114.3 931.8L1111.0 940" stroke="#111" stroke-width="1.5"/>
<path d="M1110.4 942.2Q1114.3 943.1 1118.2 940.8M1110.4 945.4Q1114.3 946.3 1118.2 944.0M1110.4 948.6Q1114.3 949.5 1118.2 947.2M1110.4 951.8Q1114.3 952.7 1118.2 950.4M1110.4 955.0Q1114.3 955.9 1118.2 953.6M1110.4 958.2Q1114.3 959.1 1118.2 956.8M1110.4 961.4Q1114.3 962.3 1118.2 960.0M1110.4 964.6Q1114.3 965.5 1118.2 963.2M1110.4 967.8Q1114.3 968.7 1118.2 966.4M1110.4 971.0Q1114.3 971.9 1118.2 969.6" stroke="#222" stroke-width="1"/>
<path d="M1110.6 940V972.6M1118.0 940V972.6" stroke="#222" stroke-width="1"/>
<ellipse cx="1114.3" cy="996.8" rx="6" ry="2.8" fill="#ccc" stroke="#222" stroke-width="1.1"/>
<ellipse cx="1114.3" cy="997" rx="3.2" ry="1.3" fill="#555" stroke="none"/>
<path d="M1100.1 1029.5C1100.3 1026 1105 1024.9 1113.8 1024.9C1122.6 1024.9 1127.3 1026 1127.5 1029.5V1041.2C1127.3 1045 1122 1046.8 1113.8 1046.8C1105.6 1046.8 1100.3 1045 1100.1 1041.2Z" fill="#fff" stroke="#333" stroke-width="1.1"/>
<path d="M1100.3 1040.8C1102 1037 1107 1035.6 1113.8 1035.6C1120.6 1035.6 1125.6 1037 1127.3 1040.8" stroke="#888" stroke-width="0.8"/>
</g>
<g id="p6" fill="none" stroke-linecap="round" stroke-linejoin="round">
<clipPath id="cp6"><rect x="1231.3" y="834.4" width="248.4" height="167"/></clipPath>
<rect x="1231.3" y="834.4" width="248.4" height="167" fill="#fff" stroke="#d4d4d4" stroke-width="1"/>
<path d="M1231.3 848.2H1479.7M1231.3 874.2H1479.7M1231.3 900.4H1479.7M1321.9 834.4V848.2M1449.1 848.2V874.2M1323.5 874.2V878M1451.9 900.4V926" stroke="#444" stroke-width="1.1"/>
<path d="M1231.3 926H1479.7" stroke="#333" stroke-width="1.6"/>
<g clip-path="url(#cp6)">
<path d="M1353.5 941C1356 948 1347 959.5 1324.4 960C1302 959.5 1292 951 1295 944C1297 939.5 1302 936.6 1307.5 935.2" stroke="#777" stroke-width="1"/>
<path d="M1305 932.4L1312.5 934.4L1305 937.6Z" fill="#fff" stroke="#777" stroke-width="1"/>
<path d="M1271.9 1003V937.6C1272.3 915 1287 898 1311.1 892.1L1340.9 887.9C1356 886.5 1368 890 1374.1 904.5L1384 937.6L1407.2 1003H1397.7L1380.7 950.9L1370.7 917.7C1366 903 1360 898 1354.2 897.9L1335.1 897L1314.4 901.2C1296 905 1281 915 1280.5 931V1003Z" fill="#fff" stroke="none"/>
<path d="M1271.9 1003V937.6C1272.3 915 1287 898 1311.1 892.1L1316 891" stroke="#111" stroke-width="1.9"/>
<path d="M1280.5 1003V931" stroke="#777" stroke-width="1" stroke-dasharray="9 3.5"/>
<path d="M1280.5 931C1281 915 1296 905 1314.4 901.2" stroke="#222" stroke-width="1.2"/>
<path d="M1337 888.4L1340.9 887.9C1356 886.5 1368 890 1374.1 904.5L1384 937.6L1407.2 1003" stroke="#666" stroke-width="1.1"/>
<path d="M1335.1 897L1354.2 897.9C1360 898 1366 903 1370.7 917.7L1380.7 950.9L1397.7 1003" stroke="#111" stroke-width="1.6"/>
<path d="M1315.8 889V899.5A8.6 3 0 0 0 1333 899.5V889Z" fill="#fff" stroke="#222" stroke-width="1.1"/>
<path d="M1315.8 892H1333M1315.8 894H1333M1315.8 896H1333M1315.8 898H1333" stroke="#333" stroke-width="1"/>
<path d="M1316.4 900.2Q1324.4 897.6 1332.4 900.2" stroke="#444" stroke-width="0.8"/>
<path d="M1310.3 886C1310 880.5 1315 877.7 1324.8 877.7C1334.6 877.7 1339.6 880.5 1339.3 886V889.2C1336 890.8 1330 891.3 1324.8 891.3C1319.6 891.3 1313.6 890.8 1310.3 889.2Z" fill="#fff" stroke="#222" stroke-width="1.3"/>
<path d="M1310.3 911C1310.5 907.2 1316 906.2 1324.8 906.2C1333.6 906.2 1339.1 907.2 1339.3 911V921.9C1339 925.5 1333 926.5 1324.8 926.5C1316.6 926.5 1310.6 925.5 1310.3 921.9Z" fill="#fff" stroke="#333" stroke-width="1.1"/>
<path d="M1310.6 921.6C1312.5 918 1318 917.2 1324.8 917.2C1331.6 917.2 1337.1 918 1339 921.6" stroke="#555" stroke-width="0.9"/>
</g></g>
<!-- 90_nums.svg -->
<g id="nums" font-size="47" text-anchor="middle">
<circle cx="126.75" cy="250.9" r="24.95" fill="#fff" stroke="#111" stroke-width="1.6"/>
<path d="M129.9 266.7H125.7V241.4Q124.2 242.8 121.9 244.1Q119.5 245.5 117.4 246.2V242.3Q120.8 240.7 123.4 238.5Q126 236.2 127.2 234.1H129.9Z" fill="#000"/>
<circle cx="146.05" cy="493.2" r="25" fill="#fff" stroke="#111" stroke-width="1.6"/><text x="147.95" y="509.2">3</text>
<circle cx="681.5" cy="390.9" r="24.9" fill="#fff" stroke="#111" stroke-width="1.6"/><text x="683.3" y="406.3">2</text>
<circle cx="698.2" cy="800.3" r="24.8" fill="none" stroke="#111" stroke-width="1.6"/><text x="695.9" y="814.8">4</text>
<circle cx="1076.85" cy="998.4" r="24.85" fill="#fff" stroke="#111" stroke-width="1.6"/><text x="1077.4" y="1015.1">5</text>
<circle cx="1440.85" cy="961.35" r="24.85" fill="#fff" stroke="#111" stroke-width="1.6"/><text x="1442.3" y="977.3">6</text>
</g>
</svg>
</body></html>
